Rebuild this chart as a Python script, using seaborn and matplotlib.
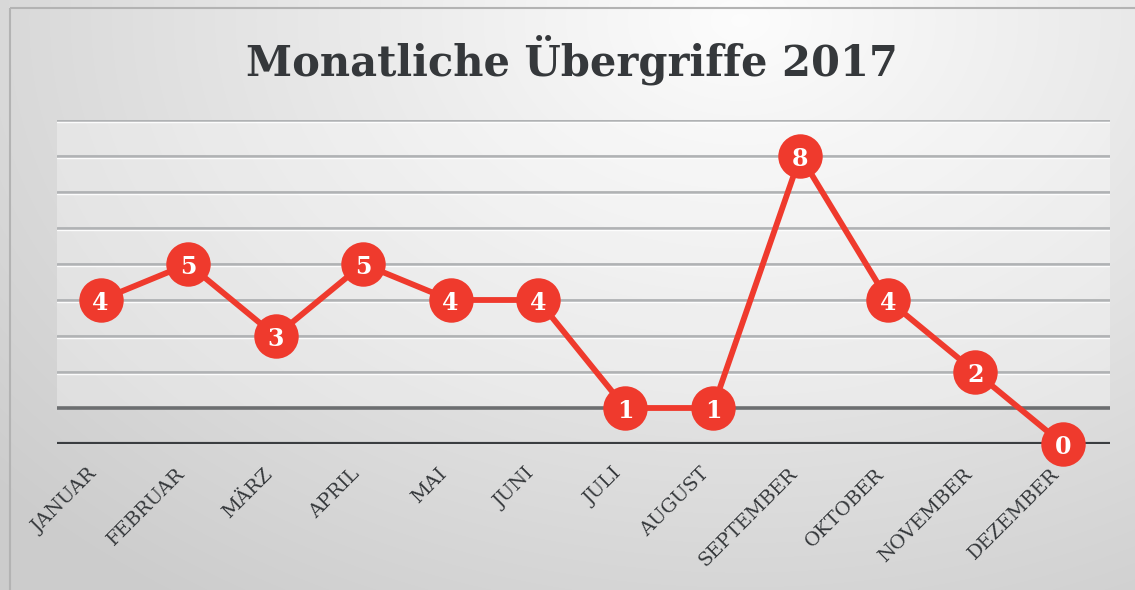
import numpy as np
import matplotlib
matplotlib.use("Agg")
import matplotlib.pyplot as plt
import seaborn as sns
import pandas as pd
from matplotlib.patches import Rectangle

# ---- data ----
months = ["JANUAR", "FEBRUAR", "MÄRZ", "APRIL", "MAI", "JUNI",
          "JULI", "AUGUST", "SEPTEMBER", "OKTOBER", "NOVEMBER", "DEZEMBER"]
values = [4, 5, 3, 5, 4, 4, 1, 1, 8, 4, 2, 0]
title = "Monatliche Übergriffe 2017"

RED = "#ef3a2d"
DARK = "#35383b"

sns.set_theme(style="white")
plt.rcParams['font.family'] = ['DejaVu Serif', 'DejaVu Sans']

W, H = 1135, 590
fig = plt.figure(figsize=(W / 100, H / 100), dpi=100)

# background gradient
bg = fig.add_axes([0, 0, 1, 1], zorder=0)
yy, xx = np.mgrid[0:H, 0:W]
d = np.sqrt((xx - 740.0) ** 2 + ((yy - 20.0) * 1.4) ** 2)
t = np.clip(d / 1000.0, 0, 1)
c = 0.99 - t * (0.99 - 0.80)
img = np.dstack([c, c, c])
bg.imshow(img, extent=[0, W, H, 0], aspect='auto', interpolation='bilinear')
bg.set_xlim(0, W)
bg.set_ylim(H, 0)
bg.axis('off')
bg.add_patch(Rectangle((10, 8), W, H, fill=False, ec='#b3b3b3', lw=1.5))

# main axes
L, R, T, B = 57, 1110, 120, 444
ax = fig.add_axes([L / W, 1 - B / H, (R - L) / W, (B - T) / H], zorder=1)
ax.patch.set_alpha(0)

df = pd.DataFrame({"idx": np.arange(len(months)), "val": values})

ax.axhspan(1, 9, color='white', alpha=0.3, zorder=0, lw=0)
for v in range(2, 10):
    ax.axhline(v, color='#b0b2b4', lw=2.0, zorder=1)
    ax.axhline(v - 0.055, color='white', lw=1.0, alpha=0.9, zorder=1)
ax.axhline(1, color='#6c6e70', lw=2.6, zorder=1)
ax.axhline(0, color='#3a3d40', lw=3.0, zorder=1)

sns.lineplot(data=df, x="idx", y="val", ax=ax, color=RED, lw=4.2,
             marker='o', markersize=32, markeredgewidth=0, zorder=3,
             clip_on=False)
for i, v in zip(df["idx"], df["val"]):
    ax.text(i, v, str(v), ha='center', va='center_baseline', color='white',
            fontweight='heavy', fontsize=17, zorder=5, clip_on=False)

ax.set_xlim(-0.5, 11.54)
ax.set_ylim(0, 9)
ax.set_yticks([])
ax.set_xticks(range(len(months)))
ax.set_xticklabels(months, rotation=45, ha='right', fontsize=14, color=DARK)
ax.tick_params(axis='x', length=0, pad=15)
ax.set_xlabel("")
ax.set_ylabel("")
for s in ax.spines.values():
    s.set_visible(False)

fig.text(572 / W, 1 - 60 / H, title, ha='center', va='center',
         fontsize=30, fontweight='heavy', color=DARK)

fig.savefig("out.png", dpi=100)
